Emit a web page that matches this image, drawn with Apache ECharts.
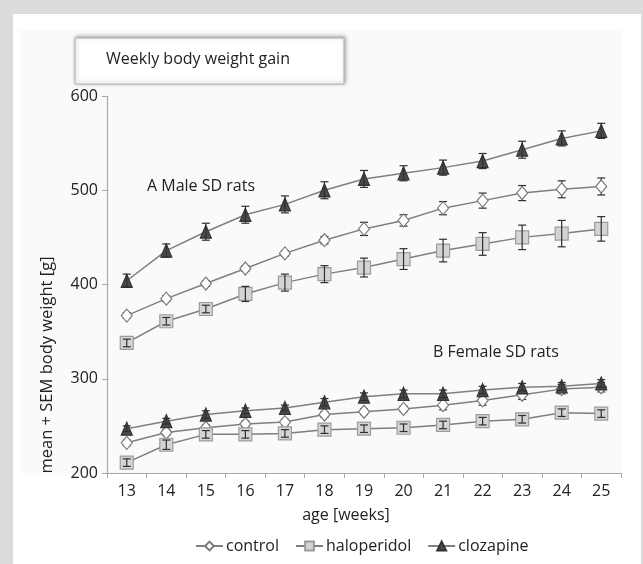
<!DOCTYPE html>
<html>
<head>
<meta charset="utf-8">
<script src="https://cdn.jsdelivr.net/npm/echarts@6/dist/echarts.min.js"></script>
<style>
html,body{margin:0;padding:0;background:#dcdcdc;}
#c{width:643px;height:564px;}
</style>
</head>
<body>
<div id="c"></div>
<script>
const weeks = ['13','14','15','16','17','18','19','20','21','22','23','24','25'];
const yMin = 200, yMax = 600, yStep = 100;

const maleControl      = [367, 385, 401, 417, 433, 447, 459, 468, 481, 489, 497, 501, 504];
const maleControlSem   = [3, 3, 3, 3, 3, 4, 7, 6, 7, 8, 8, 9, 9];
const maleHalo         = [338, 361, 374, 390, 402, 411, 418, 427, 436, 443, 450, 454, 459];
const maleHaloSem      = [4, 4, 4, 8, 9, 9, 10, 11, 12, 12, 13, 14, 13];
const maleCloz         = [404, 436, 456, 474, 485, 500, 512, 518, 524, 531, 543, 555, 563];
const maleClozSem      = [7, 7, 9, 9, 9, 9, 9, 8, 8, 8, 9, 8, 8];

const femControl       = [232, 243, 248, 252, 254, 262, 265, 268, 272, 277, 283, 289, 291];
const femControlSem    = [3, 3, 3, 3, 3, 3, 3, 3, 5, 5, 5, 5, 5];
const femHalo          = [211, 230, 241, 241, 242, 246, 247, 248, 251, 255, 257, 264, 263];
const femHaloSem       = [4, 5, 4, 4, 4, 4, 4, 4, 4, 4, 4, 4, 4];
const femCloz          = [247, 255, 262, 266, 269, 275, 281, 284, 284, 288, 291, 292, 295];
const femClozSem       = [3, 3, 4, 3, 3, 4, 4, 4, 4, 4, 4, 4, 4];

const legendNames = ['control', 'haloperidol', 'clozapine'];
const FONT = 'Open Sans';
const LINE = '#7f7f7f';

const styles = {
  control:     {symbol: 'diamond',  size: [11, 13], fill: '#ffffff', border: '#7a7a7a'},
  haloperidol: {symbol: 'rect',     size: [13, 13], fill: '#d4d4d4', border: '#9c9c9c'},
  clozapine:   {symbol: 'triangle', size: [11, 13], fill: '#4a4a4a', border: '#333333'}
};

function lineSeries(name, data) {
  const s = styles[name];
  return {
    name: name, type: 'line', data: data, z: 3,
    symbol: s.symbol, symbolSize: s.size, showSymbol: true,
    lineStyle: {color: LINE, width: 1.5},
    itemStyle: {color: s.fill, borderColor: s.border, borderWidth: 1.2},
    emphasis: {disabled: true}, animation: false
  };
}

function errSeries(mean, sem, z) {
  return {
    type: 'custom', z: z, silent: true, animation: false,
    data: mean.map((m, i) => [i, m, sem[i]]),
    renderItem: function (params, api) {
      const i = api.value(0), m = api.value(1), s = api.value(2);
      const top = api.coord([i, m + s]);
      const bot = api.coord([i, m - s]);
      const w = 4;
      const st = {stroke: '#2f2f2f', lineWidth: 1.2};
      return {type: 'group', children: [
        {type: 'line', shape: {x1: top[0], y1: top[1], x2: bot[0], y2: bot[1]}, style: st},
        {type: 'line', shape: {x1: top[0] - w, y1: top[1], x2: top[0] + w, y2: top[1]}, style: st},
        {type: 'line', shape: {x1: bot[0] - w, y1: bot[1], x2: bot[0] + w, y2: bot[1]}, style: st}
      ]};
    }
  };
}

const chart = echarts.init(document.getElementById('c'), null, {renderer: 'canvas'});
chart.setOption({
  backgroundColor: '#dcdcdc',
  animation: false,
  textStyle: {fontFamily: FONT, color: '#222'},
  graphic: [
    {type: 'rect', z: -10, shape: {x: 13, y: 14, width: 628, height: 550}, style: {fill: '#ffffff'}},
    {type: 'rect', z: -9, shape: {x: 20, y: 30, width: 602, height: 443}, style: {fill: '#fafafa'}},
    {type: 'rect', z: 10, shape: {x: 75, y: 38, width: 269, height: 46},
      style: {fill: '#ffffff', stroke: '#b0b0b0', lineWidth: 1,
              shadowBlur: 4, shadowColor: 'rgba(0,0,0,0.35)', shadowOffsetX: 1, shadowOffsetY: -1}},
    {type: 'text', z: 11, left: 106, top: 51,
      style: {text: 'Weekly body weight gain', fontFamily: FONT, fontSize: 16, fill: '#222'}},
    {type: 'text', z: 11, left: 147, top: 178,
      style: {text: 'A Male SD rats', fontFamily: FONT, fontSize: 16, fill: '#222'}},
    {type: 'text', z: 11, left: 433, top: 344,
      style: {text: 'B Female SD rats', fontFamily: FONT, fontSize: 16, fill: '#222'}},
    {type: 'text', z: 11, x: 47, y: 365, rotation: Math.PI / 2,
      style: {text: 'mean + SEM body weight [g]', fontFamily: FONT, fontSize: 16.5, fill: '#222',
              align: 'center', verticalAlign: 'middle'}},
    {type: 'text', z: 11, x: 346, y: 515,
      style: {text: 'age [weeks]', fontFamily: FONT, fontSize: 16, fill: '#222',
              align: 'center', verticalAlign: 'middle'}}
  ],
  grid: {left: 107, right: 22, top: 96, bottom: 91, containLabel: false},
  legend: {
    data: legendNames, left: 190, top: 533, itemWidth: 27, itemHeight: 11, itemGap: 16,
    textStyle: {fontFamily: FONT, fontSize: 16, color: '#222', padding: [0, 0, 0, -2]},
    selectedMode: false
  },
  xAxis: {
    type: 'category', data: weeks, boundaryGap: true,
    axisLine: {lineStyle: {color: '#a8a8a8', width: 1.2}},
    axisTick: {show: true, inside: false, length: 5, alignWithLabel: false, lineStyle: {color: '#a8a8a8'}},
    axisLabel: {fontFamily: FONT, fontSize: 16, color: '#222', margin: 10}
  },
  yAxis: {
    type: 'value', min: yMin, max: yMax, interval: yStep,
    axisLine: {show: true, lineStyle: {color: '#a8a8a8', width: 1.2}},
    axisTick: {show: true, length: 5, lineStyle: {color: '#a8a8a8'}},
    splitLine: {show: false},
    axisLabel: {fontFamily: FONT, fontSize: 16, color: '#222', margin: 9}
  },
  series: [
    errSeries(maleControl, maleControlSem, 1),
    errSeries(femControl, femControlSem, 1),
    lineSeries('control', maleControl),
    lineSeries('haloperidol', maleHalo),
    lineSeries('clozapine', maleCloz),
    lineSeries('control', femControl),
    lineSeries('haloperidol', femHalo),
    lineSeries('clozapine', femCloz),
    errSeries(maleHalo, maleHaloSem, 5),
    errSeries(maleCloz, maleClozSem, 5),
    errSeries(femHalo, femHaloSem, 5),
    errSeries(femCloz, femClozSem, 5)
  ]
});
</script>
</body>
</html>
